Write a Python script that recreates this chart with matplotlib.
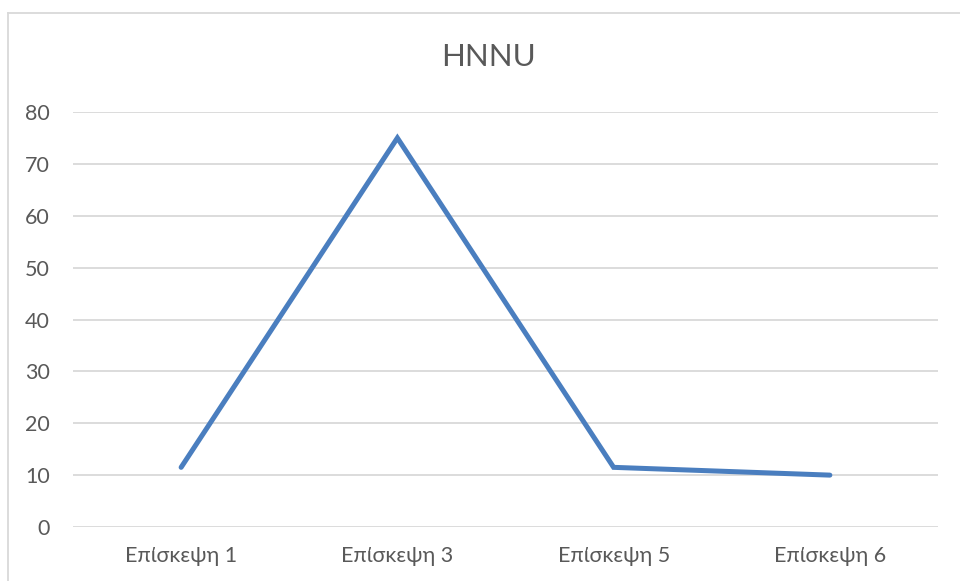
import matplotlib.pyplot as plt
from matplotlib.lines import Line2D

# dados do gráfico
categorias = ['Επίσκεψη 1', 'Επίσκεψη 3', 'Επίσκεψη 5', 'Επίσκεψη 6']
valores = [11.5, 75, 11.5, 10]
yticks = [0, 10, 20, 30, 40, 50, 60, 70, 80]
titulo = 'HNNU'

cor_texto = '#595959'
cor_grade = '#d9d9d9'

plt.rcParams['font.family'] = ['Lato', 'DejaVu Sans']

fig = plt.figure(figsize=(9.6, 5.81), dpi=100)
ax = fig.add_axes([73 / 960, 1 - 527 / 581, 865 / 960, 415 / 581])

x = list(range(len(categorias)))
ax.plot(x, valores, color='#4a7ebf', linewidth=3.6, solid_capstyle='round',
        solid_joinstyle='miter', zorder=3)

ax.set_xlim(-0.5, len(categorias) - 0.5)
ax.set_ylim(0, 80)
ax.set_yticks(yticks)
ax.set_xticks(x)
ax.set_xticklabels(categorias)
ax.grid(axis='y', color=cor_grade, linewidth=1.3)
ax.set_axisbelow(True)
for s in ax.spines.values():
    s.set_visible(False)
ax.tick_params(axis='both', length=0, colors=cor_texto, labelsize=15.5)
ax.tick_params(axis='y', pad=16.5)
ax.tick_params(axis='x', pad=14)
for lbl in ax.get_yticklabels():
    lbl.set_horizontalalignment('right')

fig.text(488 / 960, 1 - 57 / 581, titulo, ha='center', va='center',
         fontsize=22.5, color=cor_texto)

# borda do gráfico (cortada pela imagem)
fig.add_artist(Line2D([8 / 960, 8 / 960], [0, 1 - 12.5 / 581], color=cor_grade,
                      linewidth=1.3, transform=fig.transFigure))
fig.add_artist(Line2D([8 / 960, 1], [1 - 12.5 / 581, 1 - 12.5 / 581], color=cor_grade,
                      linewidth=1.3, transform=fig.transFigure))

fig.savefig('out.png', dpi=100)
